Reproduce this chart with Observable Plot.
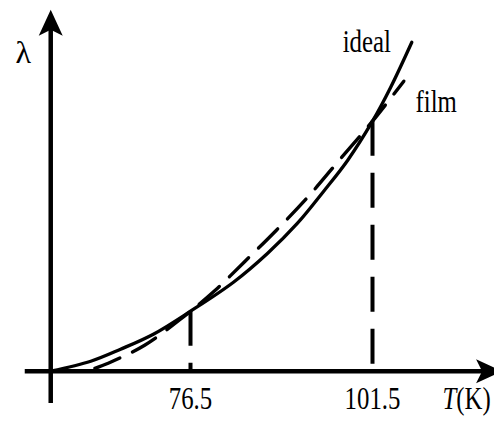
<!DOCTYPE html>
<html>
<head>
<meta charset="utf-8">
<script src="https://cdn.jsdelivr.net/npm/d3@7"></script>
<script src="https://cdn.jsdelivr.net/npm/@observablehq/plot@0.6"></script>
<style>
  html, body { margin: 0; padding: 0; background: #fff; }
</style>
</head>
<body>
<div id="chart"></div>
<script>
// ---- data (T in K, λ in arbitrary units) ----
const idealT      = [57.3, 62.8, 66.9, 71.4, 76.5, 82.4, 87.1, 91.2, 94.8, 98.1, 101.5, 104.0, 106.9];
const idealLambda = [0,    10,   22,   37,   60,   89,   118,  148,  180,  211,  250,   284,   329];
const filmT       = [62.2, 65.2, 70.2, 75.3, 79.9, 84.0, 88.3, 92.6, 96.7, 101.5, 105.8];
const filmLambda  = [0,    8,    26,   53,   81,   110,  141,  174,  209,  250,   290];
const tickValues  = [76.5, 101.5];
const tickLabels  = ["76.5", "101.5"];
const markerTops  = [60, 250];
const seriesNames = ["ideal", "film"];
const xAxisRange  = [53.8, 119.3];
const yAxisRange  = [-32.3, 361.4];
const xTitleParts = ["T", "(K)"];
const yTitle      = "λ";

const ideal = idealT.map((t, i) => ({T: t, L: idealLambda[i]}));
const film  = filmT.map((t, i) => ({T: t, L: filmLambda[i]}));
const markers = tickValues.map((t, i) => ({T: t, top: markerTops[i], label: tickLabels[i]}));

// filled "stealth" arrowhead, tip at origin, pointing up
const stealth = {
  draw(ctx) {
    ctx.moveTo(0, 0);
    ctx.lineTo(12, 26);
    ctx.lineTo(0, 20);
    ctx.lineTo(-12, 26);
    ctx.closePath();
  }
};

const x0 = ideal[0].T; // origin of the axes
const pxPerK = 7.28;
const FS = 31;

const chart = Plot.plot({
  width: 494,
  height: 421,
  margin: 0,
  x: {domain: [50.401, 118.258], axis: null},
  y: {domain: [-50.3, 370.7], axis: null},
  style: {fontFamily: "'Liberation Serif', 'Times New Roman', serif", background: "white", color: "black"},
  marks: [
    // axes
    Plot.ruleY([0], {x1: xAxisRange[0], x2: xAxisRange[1] - 10 / pxPerK, stroke: "black", strokeWidth: 4.5}),
    Plot.ruleX([x0], {y1: yAxisRange[0], y2: yAxisRange[1] - 10, stroke: "black", strokeWidth: 4.5}),
    Plot.dot([{T: xAxisRange[1], L: 0}], {x: "T", y: "L", symbol: stealth, rotate: 90, fill: "black", stroke: "none"}),
    Plot.dot([{T: x0, L: yAxisRange[1]}], {x: "T", y: "L", symbol: stealth, fill: "black", stroke: "none"}),
    // vertical markers
    Plot.ruleX(markers, {x: "T", y1: "top", y2: 0, stroke: "black", strokeWidth: 4, strokeDasharray: "35,17"}),
    // curves
    Plot.line(film, {x: "T", y: "L", curve: "catmull-rom", stroke: "black", strokeWidth: 3.4,
                     strokeDasharray: "27,14", strokeDashoffset: 32}),
    Plot.line(ideal, {x: "T", y: "L", curve: "catmull-rom", stroke: "black", strokeWidth: 3.3}),
    // tick labels
    Plot.text(markers, {x: "T", y: -37.3, text: "label", fontSize: FS, lineAnchor: "bottom", textAnchor: "middle", fill: "black"}),
    // axis titles
    Plot.text([xTitleParts[0]], {x: 111.12, y: -37.3, text: d => d, fontSize: FS, fontStyle: "italic", lineAnchor: "bottom", textAnchor: "start", fill: "black"}),
    Plot.text([xTitleParts[1]], {x: 113.0, y: -37.3, text: d => d, fontSize: FS, lineAnchor: "bottom", textAnchor: "start", fill: "black"}),
    Plot.text([yTitle], {x: 52.46, y: 308, text: d => d, fontSize: 32, lineAnchor: "bottom", textAnchor: "start", fill: "black"}),
    // series labels
    Plot.text([seriesNames[0]], {x: 97.4, y: 319, text: d => d, fontSize: FS, lineAnchor: "bottom", textAnchor: "start", fill: "black"}),
    Plot.text([seriesNames[1]], {x: 107.41, y: 259, text: d => d, fontSize: FS, lineAnchor: "bottom", textAnchor: "start", fill: "black"})
  ]
});

// the reference lettering is horizontally condensed
d3.select(chart).selectAll("text").each(function () {
  if (this.textContent === yTitle) return;
  const t = this.getAttribute("transform");
  if (t) {
    this.setAttribute("transform", t + " scale(0.8,1)");
  } else {
    const x = +this.getAttribute("x") || 0;
    const y = this.getAttribute("y");
    const yNum = y && !/em$/.test(y) ? +y : 0;
    this.setAttribute("x", 0);
    if (y && !/em$/.test(y)) this.setAttribute("y", 0);
    this.setAttribute("transform", `translate(${x},${yNum}) scale(0.8,1)`);
  }
});

document.getElementById("chart").appendChild(chart);
</script>
</body>
</html>
